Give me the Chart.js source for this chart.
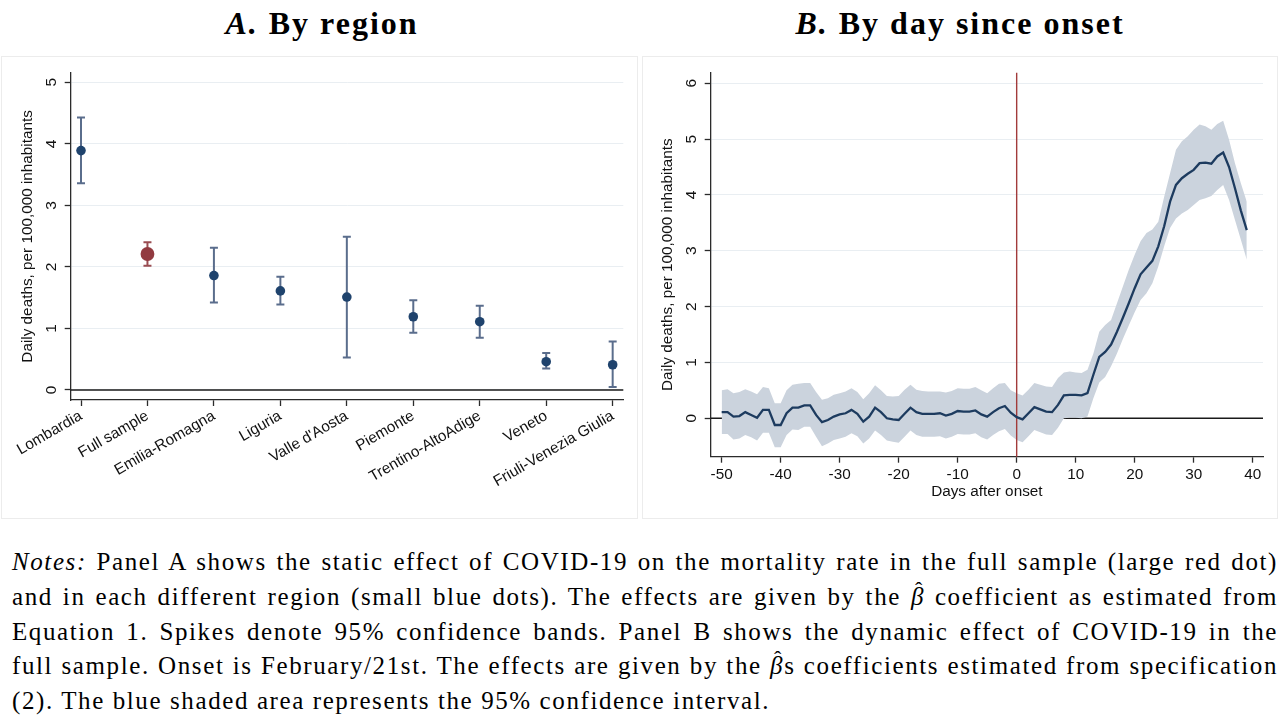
<!DOCTYPE html>
<html><head><meta charset="utf-8">
<script src="https://cdn.jsdelivr.net/npm/chart.js@4.4.1/dist/chart.umd.min.js"></script>
<style>
html,body{margin:0;padding:0;background:#fff;width:1280px;height:720px;overflow:hidden;}
.frame{position:absolute;border:1px solid #ececec;box-sizing:border-box;}
.title{position:absolute;top:7px;width:600px;font-family:"Liberation Serif",serif;font-weight:bold;font-size:32px;line-height:32px;color:#000;text-align:center;white-space:nowrap;letter-spacing:2px;}
canvas{position:absolute;}
.note{position:absolute;left:12px;width:1266px;font-family:"Liberation Serif",serif;font-size:25px;line-height:28px;color:#000;text-align:justify;text-align-last:justify;letter-spacing:1.6px;}
.note.last{text-align:left;text-align-last:left;}
.bh{position:relative;display:inline-block;}
.bh .hat{position:absolute;left:4px;top:-7px;font-size:22px;font-style:normal;}
</style>
</head><body>
<div class="frame" style="left:1px;top:56px;width:637px;height:463px;"></div>
<div class="frame" style="left:642px;top:56px;width:636px;height:463px;"></div>
<div class="title" style="left:22px;"><i>A.</i> By region</div>
<div class="title" style="left:660px;"><i>B.</i> By day since onset</div>
<canvas id="cA" width="640" height="480" style="left:0;top:50px;width:640px;height:480px;"></canvas>
<canvas id="cB" width="640" height="460" style="left:640px;top:50px;width:640px;height:460px;"></canvas>
<div class="note" style="top:548px;"><i>Notes:</i> Panel A shows the static effect of COVID-19 on the mortality rate in the full sample (large red dot)</div>
<div class="note" style="top:583px;">and in each different region (small blue dots). The effects are given by the <span class="bh"><i>β</i><span class="hat">ˆ</span></span> coefficient as estimated from</div>
<div class="note" style="top:618px;">Equation 1. Spikes denote 95% confidence bands. Panel B shows the dynamic effect of COVID-19 in the</div>
<div class="note" style="top:652px;">full sample. Onset is February/21st. The effects are given by the <span class="bh"><i>β</i><span class="hat">ˆ</span></span>s coefficients estimated from specification</div>
<div class="note last" style="top:687px;">(2). The blue shaded area represents the 95% confidence interval.</div>
<script>
// ---------- Panel A data ----------
const regions = ['Lombardia','Full sample','Emilia-Romagna','Liguria',"Valle d'Aosta",'Piemonte','Trentino-AltoAdige','Veneto','Friuli-Venezia Giulia'];
const regionEst = [3.89, 2.21, 1.86, 1.61, 1.51, 1.19, 1.11, 0.46, 0.41];
const regionLo  = [3.36, 2.02, 1.42, 1.39, 0.53, 0.93, 0.85, 0.35, 0.05];
const regionHi  = [4.43, 2.40, 2.31, 1.84, 2.49, 1.46, 1.37, 0.60, 0.79];
const fullSampleName = 'Full sample';
const yTicksA = [0, 1, 2, 3, 4, 5];

// ---------- Panel B data ----------
const days = [-50,-49,-48,-47,-46,-45,-44,-43,-42,-41,-40,-39,-38,-37,-36,-35,-34,-33,-32,-31,
  -30,-29,-28,-27,-26,-25,-24,-23,-22,-21,-20,-19,-18,-17,-16,-15,-14,-13,-12,-11,
  -10,-9,-8,-7,-6,-5,-4,-3,-2,-1,0,1,2,3,4,5,6,7,8,9,
  10,11,12,13,14,15,16,17,18,19,20,21,22,23,24,25,26,27,28,29,
  30,31,32,33,34,35,36,37,38,39];
const dynEst = [0.11,0.11,0.03,0.04,0.11,0.06,0.01,0.15,0.15,-0.12,-0.12,0.09,0.19,0.19,0.23,0.23,0.06,-0.07,-0.03,0.03,
  0.07,0.09,0.15,0.08,-0.06,0.03,0.19,0.11,0.00,-0.02,-0.03,0.08,0.19,0.11,0.08,0.08,0.08,0.09,0.05,0.08,
  0.13,0.12,0.12,0.14,0.07,0.03,0.11,0.18,0.22,0.10,0.02,-0.02,0.09,0.20,0.16,0.12,0.11,0.24,0.41,0.42,
  0.42,0.41,0.45,0.78,1.10,1.19,1.32,1.55,1.80,2.06,2.33,2.58,2.70,2.82,3.08,3.44,3.88,4.18,4.30,4.38,
  4.45,4.57,4.58,4.56,4.69,4.76,4.50,4.12,3.72,3.37];
const dynHi = [0.50,0.52,0.45,0.47,0.52,0.48,0.43,0.56,0.54,0.27,0.27,0.50,0.60,0.62,0.63,0.63,0.47,0.33,0.36,0.42,
  0.45,0.48,0.54,0.47,0.34,0.45,0.59,0.50,0.40,0.39,0.40,0.51,0.60,0.51,0.49,0.48,0.48,0.48,0.46,0.49,
  0.54,0.53,0.53,0.56,0.50,0.45,0.54,0.62,0.63,0.50,0.45,0.41,0.51,0.63,0.60,0.57,0.56,0.72,0.82,0.84,
  0.82,0.81,0.87,1.16,1.55,1.67,1.76,2.06,2.36,2.66,2.93,3.17,3.32,3.38,3.52,3.97,4.39,4.81,4.96,5.05,
  5.17,5.26,5.23,5.17,5.27,5.33,4.99,4.57,4.21,3.88];
const dynLo = [-0.28,-0.28,-0.38,-0.36,-0.30,-0.34,-0.40,-0.26,-0.26,-0.52,-0.52,-0.30,-0.20,-0.21,-0.15,-0.15,-0.33,-0.50,-0.45,-0.39,
  -0.36,-0.33,-0.27,-0.32,-0.45,-0.36,-0.22,-0.30,-0.40,-0.42,-0.44,-0.33,-0.22,-0.30,-0.33,-0.33,-0.33,-0.32,-0.36,-0.33,
  -0.28,-0.29,-0.29,-0.27,-0.34,-0.38,-0.30,-0.23,-0.19,-0.31,-0.39,-0.43,-0.32,-0.21,-0.25,-0.29,-0.30,-0.17,0.00,0.01,
  0.01,0.00,0.03,0.36,0.64,0.74,0.93,1.16,1.42,1.66,1.90,2.12,2.24,2.42,2.72,3.08,3.41,3.58,3.67,3.73,
  3.82,3.91,3.94,3.98,4.09,4.18,3.91,3.55,3.20,2.84];
const xTicksB = [-50, -40, -30, -20, -10, 0, 10, 20, 30, 40];
const yTicksB = [0, 1, 2, 3, 4, 5, 6];
const onsetDay = 0;

// keep justified note lines on one line each
document.querySelectorAll('.note').forEach(el => {
  let ls = 1.6;
  el.style.whiteSpace = 'nowrap';
  el.style.width = 'auto';
  while (el.scrollWidth > 1262 && ls > -1) { ls -= 0.1; el.style.letterSpacing = ls + 'px'; }
  el.style.width = '1266px';
  el.style.whiteSpace = 'normal';
});

// ---------- styling ----------
const FONT = 'Liberation Sans, Arial, sans-serif';
const AX = '#2b2b2b';
const GRID = '#e9eef2';
const NAVY = '#1f436d';
const SPIKE_BLUE = '#5a6d8c';
const RED = '#923a40';
const SPIKE_RED = '#9a4d52';

const refLines = {
  id: 'refLines',
  beforeDatasetsDraw(chart) {
    const {ctx, chartArea: a, scales: {y}} = chart;
    const py = y.getPixelForValue(0);
    ctx.save();
    ctx.strokeStyle = '#1a1a1a';
    ctx.lineWidth = 1.6;
    ctx.beginPath(); ctx.moveTo(a.left, py); ctx.lineTo(a.right, py); ctx.stroke();
    ctx.restore();
  },
  afterDatasetDraw(chart, args, opts) {
    if (opts.onset === undefined || args.index !== 1) return;
    const {ctx, chartArea: a, scales: {x}} = chart;
    const px = x.getPixelForValue(opts.onset);
    ctx.save();
    ctx.strokeStyle = '#a23b3b';
    ctx.lineWidth = 1.4;
    ctx.beginPath(); ctx.moveTo(px, a.top); ctx.lineTo(px, a.bottom); ctx.stroke();
    ctx.restore();
  }
};

function yAxis(min, max, ticksArr) {
  return {
    type: 'linear', min, max,
    afterBuildTicks: s => { s.ticks = ticksArr.map(v => ({value: v})); },
    ticks: {minRotation: 90, maxRotation: 90, crossAlign: 'center', padding: 9,
            font: {family: FONT, size: 15.5}, color: '#111'},
    grid: {color: GRID, lineWidth: 1, drawTicks: true, tickLength: 6, tickColor: AX, tickWidth: 1.3},
    border: {display: true, color: AX, width: 1.3},
    title: {display: true, text: 'Daily deaths, per 100,000 inhabitants',
            font: {family: FONT, size: 15.3}, color: '#111', padding: {top: 19, bottom: 0}},
    afterFit: s => { s.width = 70.7; s.paddingTop = 0; s.paddingBottom = 0; }
  };
}

// ---------- Panel A ----------
function spikeData(filterFn) {
  const out = [];
  regions.forEach((r, i) => { if (filterFn(r)) { out.push({x: i, y: regionLo[i]}, {x: i, y: regionHi[i]}, {x: i, y: null}); } });
  return out;
}
function capData(filterFn) {
  const out = [];
  regions.forEach((r, i) => { if (filterFn(r)) { out.push({x: i, y: regionLo[i]}, {x: i, y: regionHi[i]}); } });
  return out;
}
function pointData(filterFn) {
  const out = [];
  regions.forEach((r, i) => { if (filterFn(r)) out.push({x: i, y: regionEst[i]}); });
  return out;
}
const isFull = r => r === fullSampleName;
const isReg = r => r !== fullSampleName;

new Chart(document.getElementById('cA'), {
  type: 'scatter',
  data: {datasets: [
    {data: pointData(isFull), pointRadius: 6.9, pointBackgroundColor: RED, pointBorderWidth: 0, showLine: false},
    {data: pointData(isReg), pointRadius: 4.8, pointBackgroundColor: NAVY, pointBorderWidth: 0, showLine: false},
    {data: capData(isFull), pointStyle: 'line', pointRadius: 4, pointBorderColor: SPIKE_RED, pointBorderWidth: 2, showLine: false},
    {data: capData(isReg), pointStyle: 'line', pointRadius: 4, pointBorderColor: SPIKE_BLUE, pointBorderWidth: 2, showLine: false},
    {data: spikeData(isFull), showLine: true, spanGaps: false, borderColor: SPIKE_RED, borderWidth: 2, pointRadius: 0},
    {data: spikeData(isReg), showLine: true, spanGaps: false, borderColor: SPIKE_BLUE, borderWidth: 2, pointRadius: 0}
  ]},
  options: {
    responsive: false, animation: false,
    layout: {padding: {left: 0, top: 22.7, right: 16.7, bottom: 0}},
    plugins: {legend: {display: false}, tooltip: {enabled: false}, refLines: {}},
    scales: {
      x: {
        type: 'linear', min: -0.155, max: 8.16,
        afterBuildTicks: s => { s.ticks = regions.map((_, i) => ({value: i})); },
        ticks: {callback: v => regions[v], minRotation: 30, maxRotation: 30, autoSkip: false, padding: 1,
                font: {family: FONT, size: 15.3}, color: '#111'},
        grid: {drawOnChartArea: false, drawTicks: true, tickLength: 6, tickColor: AX, tickWidth: 1.3},
        border: {display: true, color: AX, width: 1.3},
        afterFit: s => { s.height = 130; s.paddingLeft = 0; s.paddingRight = 0; }
      },
      y: yAxis(-0.1625, 5.156, yTicksA)
    }
  },
  plugins: [refLines]
});

// ---------- Panel B ----------
const toXY = arr => days.map((d, i) => ({x: d, y: arr[i]}));
new Chart(document.getElementById('cB'), {
  type: 'line',
  data: {datasets: [
    {data: toXY(dynEst), borderColor: '#1d3b5f', borderWidth: 2.3, pointRadius: 0, tension: 0, fill: false},
    {data: toXY(dynHi), borderWidth: 0, borderColor: 'rgba(0,0,0,0)', pointRadius: 0, tension: 0,
     fill: '+1', backgroundColor: '#cbd3dd'},
    {data: toXY(dynLo), borderWidth: 0, borderColor: 'rgba(0,0,0,0)', pointRadius: 0, tension: 0, fill: false}
  ]},
  options: {
    responsive: false, animation: false,
    layout: {padding: {left: 0, top: 22.7, right: 17, bottom: 0}},
    plugins: {legend: {display: false}, tooltip: {enabled: false}, refLines: {onset: onsetDay}},
    scales: {
      x: {
        type: 'linear', min: -51.86, max: 41.75,
        afterBuildTicks: s => { s.ticks = xTicksB.map(v => ({value: v})); },
        ticks: {padding: 3, font: {family: FONT, size: 15.3}, color: '#111', maxRotation: 0},
        grid: {drawOnChartArea: false, drawTicks: true, tickLength: 6, tickColor: AX, tickWidth: 1.3},
        border: {display: true, color: AX, width: 1.3},
        title: {display: true, text: 'Days after onset', font: {family: FONT, size: 15.3}, color: '#111',
                padding: {top: 0, bottom: 9}},
        afterFit: s => { s.height = 53.3; s.paddingLeft = 0; s.paddingRight = 0; }
      },
      y: yAxis(-0.688, 6.19, yTicksB)
    }
  },
  plugins: [refLines]
});
</script>
</body></html>
